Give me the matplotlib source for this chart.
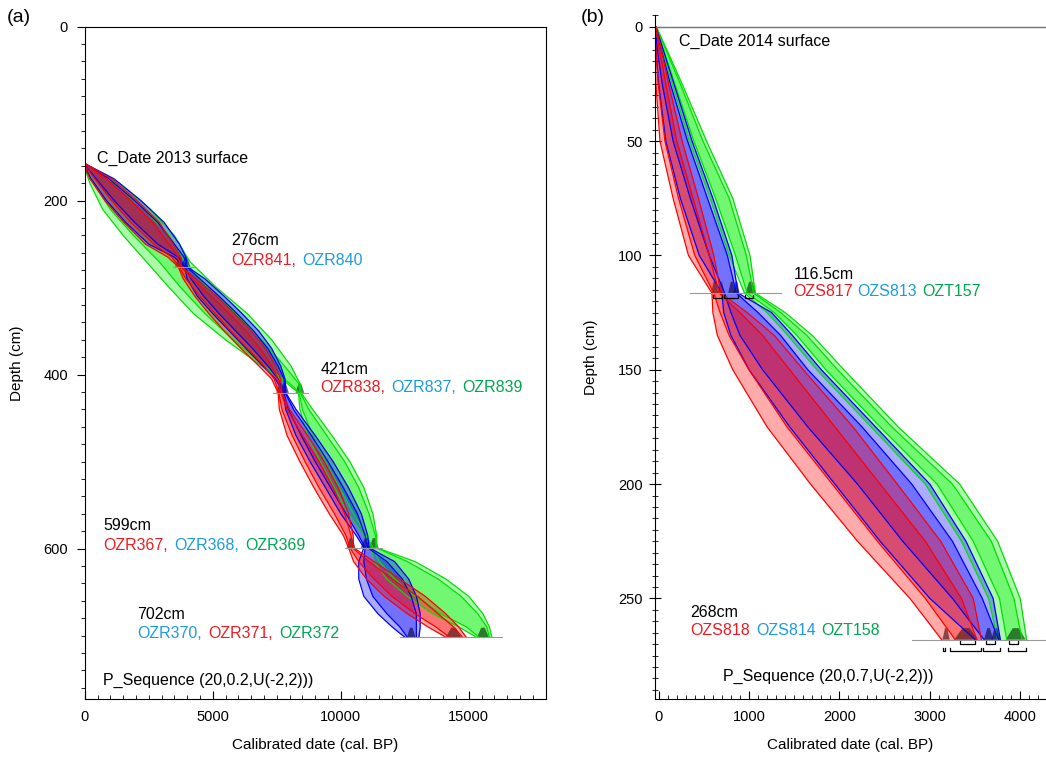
import numpy as np
import matplotlib.pyplot as plt
from matplotlib.ticker import MultipleLocator

plt.rcParams['font.family'] = ['Liberation Sans', 'DejaVu Sans']

# ---------------- panel (a) data : age-depth envelopes (cal BP vs cm)
a_depth_rb = [157, 175, 200, 225, 250, 265, 276, 290, 310, 330, 350, 370, 390, 405, 421,
              440, 470, 500, 530, 560, 585, 599, 615, 635, 655, 675, 690, 702]
a_red_lo95 = [-60, 200, 790, 1530, 2370, 3250, 3650, 3850, 4300, 4850, 5450, 6100, 6800, 7300, 7550,
              7600, 7900, 8400, 8950, 9550, 10100, 10300, 10500, 11000, 11700, 12600, 13400, 14100]
a_red_hi95 = [-20, 1050, 2050, 2910, 3450, 3750, 3780, 4350, 5150, 5850, 6500, 7050, 7450, 7650, 7700,
              8000, 8700, 9350, 9900, 10300, 10480, 10500, 11300, 12300, 13300, 14100, 14600, 14900]
a_red_lo68 = [-50, 400, 1050, 1800, 2700, 3400, 3680, 3950, 4500, 5100, 5700, 6350, 7000, 7400, 7580,
              7700, 8100, 8600, 9150, 9750, 10200, 10350, 10700, 11300, 12000, 12900, 13700, 14250]
a_red_hi68 = [-30, 850, 1800, 2650, 3300, 3650, 3750, 4200, 4950, 5650, 6300, 6850, 7300, 7550, 7670,
              7900, 8500, 9150, 9700, 10150, 10400, 10450, 11100, 12000, 13000, 13800, 14400, 14750]

a_blue_lo95 = [-60, 250, 850, 1600, 2500, 3500, 3900, 4000, 4400, 5000, 5650, 6300, 6950, 7450, 7750,
               7850, 8250, 8800, 9400, 10000, 10600, 10900, 10700, 10700, 10900, 11450, 12000, 12500]
a_blue_hi95 = [-20, 1150, 2200, 3100, 3700, 3950, 4000, 4700, 5450, 6150, 6800, 7300, 7650, 7820, 7850,
               8250, 9000, 9700, 10300, 10800, 11050, 11100, 12100, 12650, 12950, 13100, 13100, 13050]
a_blue_lo68 = [-50, 450, 1150, 1950, 2850, 3650, 3920, 4150, 4650, 5250, 5900, 6550, 7150, 7550, 7780,
               7950, 8450, 9000, 9600, 10200, 10700, 10950, 10900, 11000, 11250, 11800, 12300, 12600]
a_blue_hi68 = [-30, 950, 1950, 2850, 3500, 3880, 3970, 4500, 5250, 5950, 6600, 7150, 7550, 7780, 7830,
               8150, 8850, 9500, 10100, 10650, 10950, 11050, 11800, 12400, 12750, 12950, 12950, 12950]

a_depth_g = [157, 180, 210, 240, 270, 300, 330, 360, 390, 410, 421,
             440, 470, 500, 530, 560, 585, 599, 615, 635, 655, 675, 690, 702]
a_green_lo95 = [-60, 200, 700, 1500, 2400, 3300, 4250, 5500, 6900, 7900, 8350,
                8400, 8700, 9200, 9750, 10300, 10900, 11200, 11300, 11800, 12600, 13600, 14600, 15300]
a_green_hi95 = [-20, 1350, 2550, 3500, 4100, 5150, 6350, 7300, 8050, 8400, 8450,
                8900, 9650, 10350, 10900, 11250, 11400, 11400, 12900, 14100, 15000, 15550, 15800, 15900]
a_green_lo68 = [-50, 350, 1000, 1900, 2900, 3750, 4700, 5800, 7000, 8000, 8380,
                8500, 8900, 9400, 9950, 10500, 11000, 11250, 11500, 12100, 12900, 13900, 14900, 15400]
a_green_hi68 = [-30, 1150, 2300, 3300, 3900, 4800, 5900, 6900, 7800, 8350, 8420,
                8750, 9450, 10150, 10700, 11100, 11350, 11380, 12600, 13800, 14700, 15350, 15700, 15800]

# dated levels (posterior peaks: depth, age, spread)
a_date_depth = [157, 276, 276, 421, 421, 421, 599, 599, 599, 702, 702, 702]
a_date_age = [-30, 3700, 3950, 7650, 7800, 8400, 10400, 11000, 11300, 12750, 14400, 15550]
a_date_width = [60, 170, 170, 170, 170, 170, 170, 220, 170, 170, 300, 230]
a_date_col = ['k', 'r', 'b', 'r', 'b', 'g', 'r', 'b', 'g', 'b', 'r', 'g']
a_base_depth = [276, 421, 599, 702]
a_base_from = [3450, 7350, 10150, 12300]
a_base_to = [4250, 8700, 11600, 16300]

# ---------------- panel (b) data
b_depth = [0, 10, 25, 50, 75, 100, 116.5, 125, 135, 150, 175, 200, 225, 250, 268]
b_red_lo95 = [-50, -45, -30, 15, 160, 330, 590, 600, 650, 820, 1200, 1680, 2200, 2780, 3130]
b_red_hi95 = [-30, 30, 110, 260, 440, 610, 690, 980, 1280, 1600, 2150, 2640, 3120, 3480, 3570]
b_red_lo68 = [-45, -30, -5, 70, 220, 400, 610, 680, 780, 1000, 1420, 1920, 2420, 2950, 3280]
b_red_hi68 = [-35, 10, 80, 200, 380, 560, 670, 900, 1150, 1450, 1950, 2450, 2950, 3350, 3520]

b_blue_lo95 = [-45, -30, 0, 80, 240, 450, 700, 720, 800, 1000, 1450, 1950, 2450, 3000, 3500]
b_blue_hi95 = [-30, 50, 170, 370, 600, 810, 880, 1250, 1480, 1800, 2400, 3000, 3400, 3700, 3780]
b_blue_lo68 = [-40, -15, 40, 160, 350, 560, 730, 800, 900, 1150, 1650, 2200, 2700, 3250, 3600]
b_blue_hi68 = [-35, 30, 130, 320, 540, 760, 860, 1100, 1350, 1650, 2250, 2800, 3250, 3580, 3760]

b_green_lo95 = [-35, 40, 150, 340, 570, 780, 950, 1200, 1430, 1750, 2350, 2950, 3350, 3650, 3750]
b_green_hi95 = [-25, 90, 260, 530, 820, 1010, 1070, 1400, 1700, 2050, 2650, 3330, 3750, 4000, 4070]
b_green_lo68 = [-32, 55, 180, 390, 630, 850, 980, 1280, 1530, 1850, 2450, 3080, 3480, 3770, 3850]
b_green_hi68 = [-28, 80, 240, 490, 780, 970, 1050, 1350, 1640, 1980, 2580, 3250, 3680, 3930, 4020]

b_date_depth = [116.5, 116.5, 116.5, 116.5, 116.5, 268, 268, 268, 268, 268]
b_date_age = [620, 690, 810, 860, 1020, 3400, 3180, 3650, 3730, 3950]
b_date_width = [40, 40, 40, 35, 60, 130, 40, 50, 50, 110]
b_date_col = ['r', 'r', 'b', 'b', 'g', 'r', 'r', 'b', 'b', 'g']
b_base_depth = [116.5, 268]
b_base_from = [350, 2800]
b_base_to = [1350, 4300]
# 95% ranges under the distributions
b_rng_depth = [118.5, 118.5, 118.5, 270, 270, 270, 273, 273, 273, 273]
b_rng_from = [600, 720, 960, 3330, 3620, 3880, 3150, 3220, 3590, 3860]
b_rng_to = [700, 880, 1040, 3500, 3720, 3980, 3165, 3570, 3780, 4060]

FILL = {'r': (1, 0, 0), 'b': (0, 0, 1), 'g': (0, 0.95, 0)}
EDGE = {'r': '#ff0000', 'b': '#0000ff', 'g': '#00e000'}
DARK = {'r': '#5a1a1a', 'b': '#101050', 'g': '#0b4a0b', 'k': '#000000'}
TRED, TBLUE, TGREEN = '#ed1c24', '#1e9be0', '#00a651'


def envelope(ax, depth, lo95, hi95, lo68, hi68, c):
    ax.fill_betweenx(depth, lo95, hi95, color=FILL[c], alpha=0.33, lw=0)
    ax.fill_betweenx(depth, lo68, hi68, color=FILL[c], alpha=0.33, lw=0)
    for s in (lo95, hi95, lo68, hi68):
        ax.plot(s, depth, color=EDGE[c], lw=0.9)


def humps(ax, depths, ages, widths, cols, h):
    for d, a, w, c in zip(depths, ages, widths, cols):
        ax.fill([a - w, a - 0.3 * w, a + 0.3 * w, a + w], [d, d - h, d - h, d],
                color=DARK[c], alpha=0.7, lw=0)


fig = plt.figure(figsize=(10.46, 7.58), dpi=100)

# ================= panel (a)
ax = fig.add_axes([0.081, 0.0778, 0.4407, 0.887])
envelope(ax, a_depth_g, a_green_lo95, a_green_hi95, a_green_lo68, a_green_hi68, 'g')
envelope(ax, a_depth_rb, a_blue_lo95, a_blue_hi95, a_blue_lo68, a_blue_hi68, 'b')
envelope(ax, a_depth_rb, a_red_lo95, a_red_hi95, a_red_lo68, a_red_hi68, 'r')
for d, x0, x1 in zip(a_base_depth, a_base_from, a_base_to):
    ax.plot([x0, x1], [d, d], color='0.6', lw=0.8)
humps(ax, a_date_depth, a_date_age, a_date_width, a_date_col, 11)
ax.plot([-30, -30], [148, 168], color='k', lw=1)

ax.set_xlim(0, 18000)
ax.set_ylim(773, 0)
ax.xaxis.set_major_locator(MultipleLocator(5000))
ax.xaxis.set_minor_locator(MultipleLocator(500))
ax.yaxis.set_major_locator(MultipleLocator(200))
ax.yaxis.set_minor_locator(MultipleLocator(20))
ax.tick_params(axis='x', which='both', direction='in', labelsize=10.5, pad=8)
ax.tick_params(axis='x', which='major', length=6)
ax.tick_params(axis='x', which='minor', length=3)
ax.tick_params(axis='y', which='both', direction='out', labelsize=10.5, pad=6)
ax.tick_params(axis='y', which='major', length=6)
ax.tick_params(axis='y', which='minor', length=3)
ax.set_xlabel('Calibrated date (cal. BP)', fontsize=11, labelpad=10)
ax.set_ylabel('Depth (cm)', fontsize=11, labelpad=14)

fs = 11.5
ax.text(480, 151, 'C_Date 2013 surface', fontsize=fs, va='center')
ax.text(5714, 246, '276cm', fontsize=fs, va='center')
ax.text(5714, 269, 'OZR841,', fontsize=fs, va='center', color=TRED)
ax.text(8511, 269, 'OZR840', fontsize=fs, va='center', color=TBLUE)
ax.text(9211, 394, '421cm', fontsize=fs, va='center')
ax.text(9211, 415, 'OZR838,', fontsize=fs, va='center', color=TRED)
ax.text(11964, 415, 'OZR837,', fontsize=fs, va='center', color=TBLUE)
ax.text(14737, 415, 'OZR839', fontsize=fs, va='center', color=TGREEN)
ax.text(715, 574, '599cm', fontsize=fs, va='center')
ax.text(715, 596, 'OZR367,', fontsize=fs, va='center', color=TRED)
ax.text(3488, 596, 'OZR368,', fontsize=fs, va='center', color=TBLUE)
ax.text(6261, 596, 'OZR369', fontsize=fs, va='center', color=TGREEN)
ax.text(2043, 676, '702cm', fontsize=fs, va='center')
ax.text(2043, 698, 'OZR370,', fontsize=fs, va='center', color=TBLUE)
ax.text(4816, 698, 'OZR371,', fontsize=fs, va='center', color=TRED)
ax.text(7589, 698, 'OZR372', fontsize=fs, va='center', color=TGREEN)
ax.text(715, 752, 'P_Sequence (20,0.2,U(-2,2)))', fontsize=fs, va='center')

# ================= panel (b)
bx = fig.add_axes([0.6262, 0.0778, 0.3738, 0.902])
envelope(bx, b_depth, b_green_lo95, b_green_hi95, b_green_lo68, b_green_hi68, 'g')
envelope(bx, b_depth, b_blue_lo95, b_blue_hi95, b_blue_lo68, b_blue_hi68, 'b')
envelope(bx, b_depth, b_red_lo95, b_red_hi95, b_red_lo68, b_red_hi68, 'r')
bx.axhline(0, color='0.45', lw=1)
for d, x0, x1 in zip(b_base_depth, b_base_from, b_base_to):
    bx.plot([x0, x1], [d, d], color='0.6', lw=0.8)
humps(bx, b_date_depth, b_date_age, b_date_width, b_date_col, 5)
for d, x0, x1 in zip(b_rng_depth, b_rng_from, b_rng_to):
    bx.plot([x0, x0, x1, x1], [d - 1.2, d, d, d - 1.2], color='k', lw=0.9)
bx.plot([-40, -40], [-4, 4], color='k', lw=1.2)

bx.set_xlim(-40, 4285)
bx.set_ylim(294, -5)
bx.spines['top'].set_visible(False)
bx.spines['right'].set_visible(False)
bx.xaxis.set_major_locator(MultipleLocator(1000))
bx.xaxis.set_minor_locator(MultipleLocator(100))
bx.yaxis.set_major_locator(MultipleLocator(50))
bx.yaxis.set_minor_locator(MultipleLocator(5))
bx.tick_params(axis='x', which='both', direction='in', labelsize=10.5, pad=8)
bx.tick_params(axis='x', which='major', length=6)
bx.tick_params(axis='x', which='minor', length=3)
bx.tick_params(axis='y', which='both', direction='inout', labelsize=10.5, pad=5)
bx.tick_params(axis='y', which='major', length=8)
bx.tick_params(axis='y', which='minor', length=4)
bx.set_xlabel('Calibrated date (cal. BP)', fontsize=11, labelpad=10)
bx.set_ylabel('Depth (cm)', fontsize=11, labelpad=14)

bx.text(225, 6.6, 'C_Date 2014 surface', fontsize=fs, va='center')
bx.text(1490, 108.2, '116.5cm', fontsize=fs, va='center')
bx.text(1490, 115.9, 'OZS817', fontsize=fs, va='center', color=TRED)
bx.text(2202, 115.9, 'OZS813', fontsize=fs, va='center', color=TBLUE)
bx.text(2921, 115.9, 'OZT157', fontsize=fs, va='center', color=TGREEN)
bx.text(355, 256.2, '268cm', fontsize=fs, va='center')
bx.text(355, 263.9, 'OZS818', fontsize=fs, va='center', color=TRED)
bx.text(1085, 263.9, 'OZS814', fontsize=fs, va='center', color=TBLUE)
bx.text(1804, 263.9, 'OZT158', fontsize=fs, va='center', color=TGREEN)
bx.text(709, 283.9, 'P_Sequence (20,0.7,U(-2,2)))', fontsize=fs, va='center')

fig.text(7 / 1046, 1 - 17 / 758, '(a)', fontsize=14, va='center')
fig.text(581 / 1046, 1 - 17 / 758, '(b)', fontsize=14, va='center')

fig.savefig('out.png', dpi=100)
